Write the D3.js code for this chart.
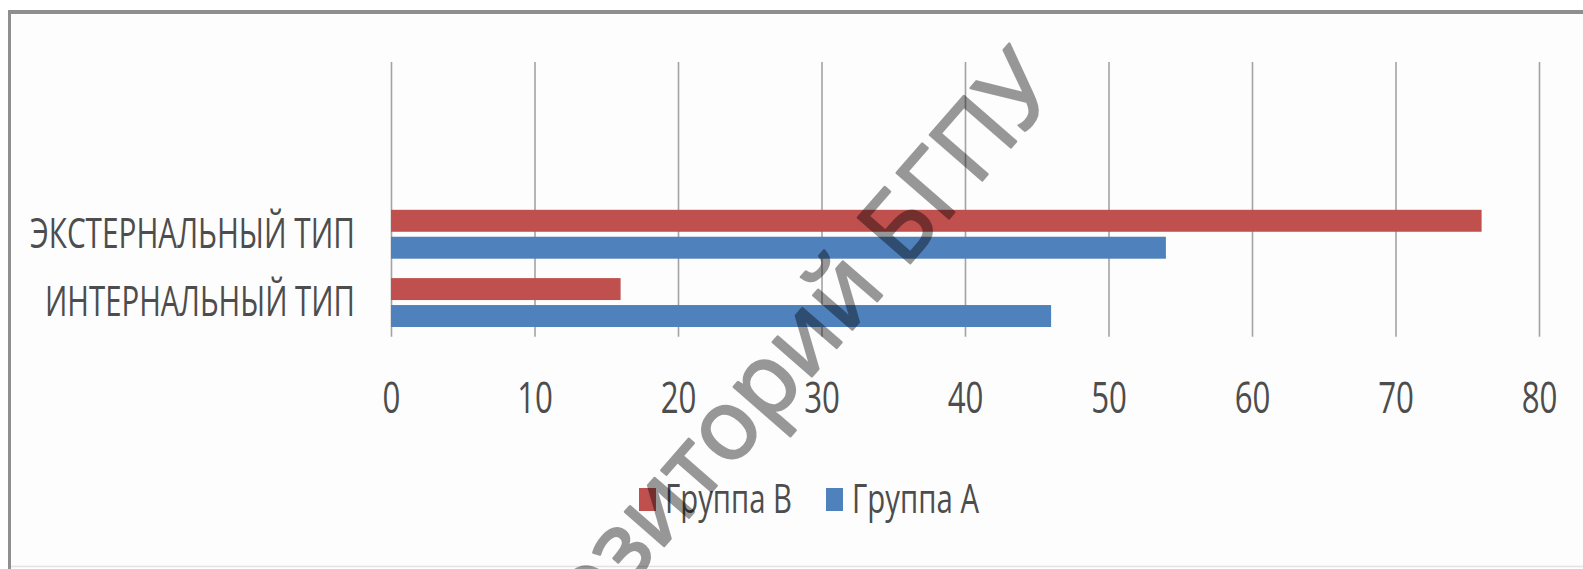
<!DOCTYPE html>
<html>
<head>
<meta charset="utf-8">
<script src="https://cdn.jsdelivr.net/npm/d3@7"></script>
<style>
  body { margin: 0; background: #fff; }
  svg text { font-family: "Open Sans", sans-serif; fill: #4d4d4d; }
</style>
</head>
<body>
<div id="chart"></div>
<script>
// data
var categories = ["ИНТЕРНАЛЬНЫЙ ТИП", "ЭКСТЕРНАЛЬНЫЙ ТИП"];   // bottom to top, like Excel
var emptySlots = ["_e1", "_e2"];                               // blank rows above the bars
var seriesNames = ["Группа В", "Группа А"];
var groupB = [16, 76];
var groupA = [46, 54];
var xTicks = [0, 10, 20, 30, 40, 50, 60, 70, 80];
var colors = ["#c0504d", "#4f81bd"];
var watermark = "Репозиторий БГПУ";

var W = 1583, H = 569;
var plotLeft = 391, plotRight = 1539, plotTop = 62, plotBottom = 336.7;

var svg = d3.select("#chart").append("svg")
    .attr("width", W)
    .attr("height", H);

// frame of the scanned chart
svg.append("rect").attr("x", 9.5).attr("y", 12).attr("width", W).attr("height", 554)
    .attr("fill", "#fdfdfd");
svg.append("line").attr("x1", 8).attr("x2", W).attr("y1", 12).attr("y2", 12)
    .attr("stroke", "#8f8f8f").attr("stroke-width", 4);
svg.append("line").attr("x1", 9.5).attr("x2", 9.5).attr("y1", 10).attr("y2", H)
    .attr("stroke", "#8f8f8f").attr("stroke-width", 3);
svg.append("line").attr("x1", 11).attr("x2", W).attr("y1", 566.5).attr("y2", 566.5)
    .attr("stroke", "#e2e2e2").attr("stroke-width", 1.5);

// squeeze text horizontally (the source picture is stretched vertically)
function squeeze(sel, k) {
  sel.each(function() {
    var len = this.getComputedTextLength();
    d3.select(this).attr("textLength", len * k).attr("lengthAdjust", "spacingAndGlyphs");
  });
}

var x = d3.scaleLinear().domain([0, 80]).range([plotLeft, plotRight]);
var y = d3.scaleBand().domain(categories.concat(emptySlots)).range([plotBottom, plotTop + 1.5]);
var ySub = d3.scaleBand().domain(seriesNames)
    .range([9.7, y.bandwidth() - 9.7])
    .paddingInner(0.185);

// vertical gridlines
var grid = svg.append("g")
    .attr("transform", "translate(0," + plotBottom + ")")
    .call(d3.axisBottom(x).tickValues(xTicks).tickSize(-(plotBottom - plotTop)).tickFormat(""));
grid.select(".domain").remove();
grid.selectAll("line").attr("stroke", "#a3a3a3").attr("stroke-width", 1.6);

// x tick labels
var xAxis = svg.append("g")
    .attr("transform", "translate(0," + plotBottom + ")")
    .call(d3.axisBottom(x).tickValues(xTicks).tickSize(0).tickPadding(45.5));
xAxis.select(".domain").remove();
xAxis.selectAll("text")
    .attr("font-family", "Open Sans")
    .attr("font-size", 44)
    .call(squeeze, 0.71);

// category labels
var yAxis = svg.append("g")
    .attr("transform", "translate(" + plotLeft + ",0)")
    .call(d3.axisLeft(y).tickSize(0).tickPadding(36)
      .tickFormat(function(d) { return emptySlots.indexOf(d) >= 0 ? "" : d; }));
yAxis.select(".domain").remove();
var labelWidths = {"ЭКСТЕРНАЛЬНЫЙ ТИП": 325, "ИНТЕРНАЛЬНЫЙ ТИП": 310};
yAxis.selectAll("text")
    .attr("font-family", "Open Sans")
    .attr("font-size", 42)
    .each(function(d) {
      if (labelWidths[d]) d3.select(this).attr("textLength", labelWidths[d]).attr("lengthAdjust", "spacingAndGlyphs");
    });

// bars
var rows = categories.map(function(c, i) {
  return {cat: c, values: [{key: seriesNames[0], value: groupB[i]}, {key: seriesNames[1], value: groupA[i]}]};
});
svg.append("g")
  .selectAll("g")
  .data(rows)
  .join("g")
    .attr("transform", function(d) { return "translate(0," + y(d.cat) + ")"; })
  .selectAll("rect")
  .data(function(d) { return d.values; })
  .join("rect")
    .attr("x", x(0))
    .attr("y", function(d) { return ySub(d.key); })
    .attr("width", function(d) { return x(d.value) - x(0); })
    .attr("height", ySub.bandwidth())
    .attr("fill", function(d, i) { return colors[i]; });

// legend
var legendX = [639, 826];
var legend = svg.append("g").selectAll("g")
    .data(seriesNames)
    .join("g")
    .attr("transform", function(d, i) { return "translate(" + legendX[i] + ",488)"; });
legend.append("rect")
    .attr("width", 17).attr("height", 23)
    .attr("fill", function(d, i) { return colors[i]; });
legend.append("text")
    .attr("x", 26).attr("y", 25)
    .attr("font-size", 40)
    .text(function(d) { return d; })
    .attr("textLength", 127).attr("lengthAdjust", "spacingAndGlyphs");

// diagonal watermark over everything (group opacity so stroke and fill blend as one)
var wmSize = 97, wmAngle = -49;
var wmG = svg.append("g").attr("opacity", 0.4);
var wm = wmG.append("text")
    .attr("font-family", "DejaVu Sans")
    .attr("font-size", wmSize)
    .style("fill", "#000")
    .style("stroke", "#000")
    .style("stroke-width", 2.5)
    .style("stroke-linejoin", "round")
    .text(watermark);
var node = wm.node();
var bIdx = watermark.indexOf("Б");
var offX = node.getSubStringLength(0, bIdx) + node.getSubStringLength(bIdx, 1) / 2;
wm.attr("x", -offX).attr("y", wmSize * 0.36)
  .attr("transform", "translate(897,225) rotate(" + wmAngle + ")");
</script>
</body>
</html>
